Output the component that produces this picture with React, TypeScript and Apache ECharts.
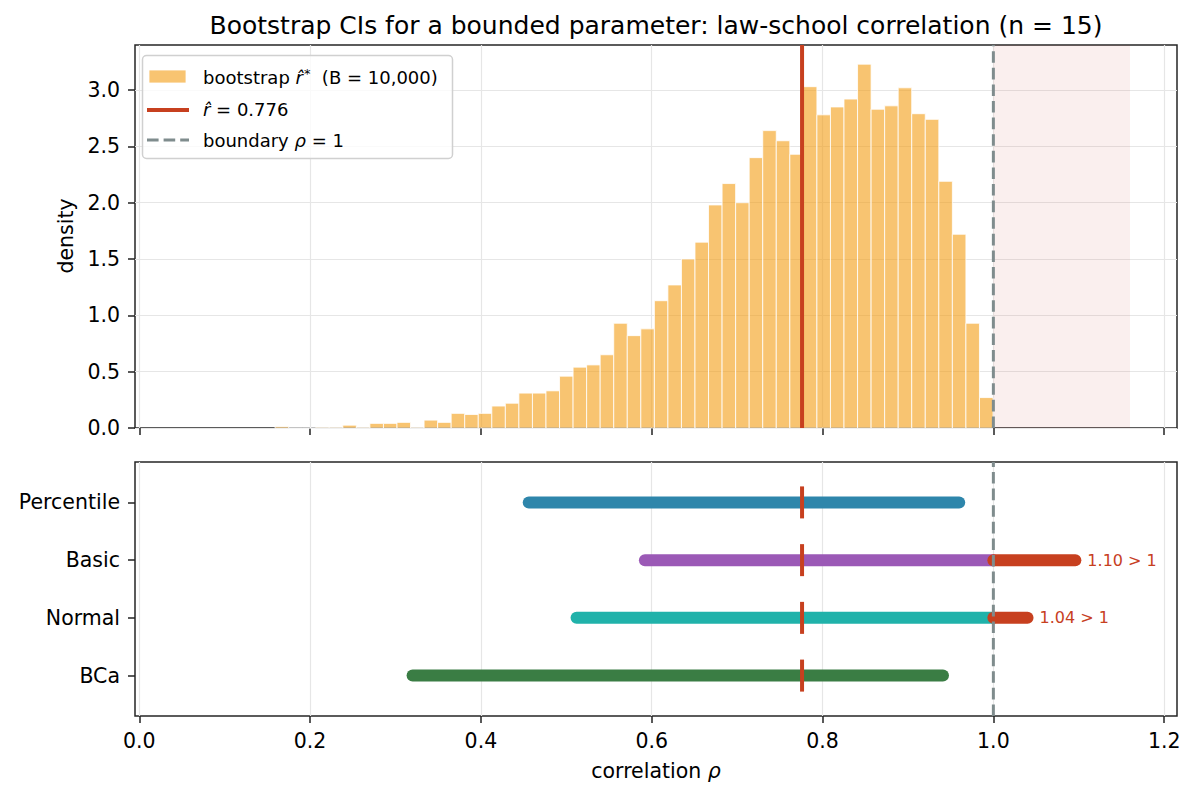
import React, { useEffect, useRef } from "react";
import * as echarts from "echarts";

const TITLE = "Bootstrap CIs for a bounded parameter: law-school correlation (n = 15)";
const X_TICKS = [0, 0.2, 0.4, 0.6, 0.8, 1.0, 1.2];
const DENSITY_TICKS = [0, 0.5, 1.0, 1.5, 2.0, 2.5, 3.0];

// histogram of bootstrap correlations (density), 53 equal bins
const BIN_START = 0.159;
const BIN_WIDTH = 0.01586;
const DENSITY = [
  0.013, 0, 0, 0.006, 0.006, 0.025, 0.006, 0.041, 0.041, 0.05,
  0.006, 0.07, 0.05, 0.13, 0.12, 0.13, 0.195, 0.22, 0.31, 0.31,
  0.33, 0.46, 0.54, 0.56, 0.65, 0.93, 0.82, 0.88, 1.13, 1.27,
  1.5, 1.65, 1.98, 2.17, 2.0, 2.4, 2.64, 2.55, 2.43, 3.03,
  2.78, 2.85, 2.92, 3.23, 2.83, 2.86, 3.02, 2.79, 2.74, 2.19,
  1.72, 0.93, 0.27,
];

const R_HAT = 0.776;
const BOUNDARY = 1.0;
const SHADE_END = 1.16;

// CI methods, bottom to top
const METHODS = ["BCa", "Normal", "Basic", "Percentile"];
const CI_LOWER = [0.32, 0.512, 0.592, 0.456];
const CI_UPPER = [0.941, 1.04, 1.096, 0.96];
const METHOD_COLORS = ["#3a7d44", "#20b2aa", "#9b59b6", "#2e86ab"];

const X_MIN = -0.005;
const X_MAX = 1.215;
const Y_MAX = 3.4;
const ROW_MIN = -0.7;
const ROW_MAX = 3.7;

const RED = "#c7401f";
const GRAY = "#7f8c8d";
const BAR_FILL = "rgba(243,156,18,0.6)";
const FONT = "DejaVu Sans";
const GRID_COLOR = "#e6e6e6";

export default function App() {
  const ref = useRef<HTMLDivElement>(null);

  useEffect(() => {
    if (!ref.current) return;
    const chart = echarts.init(ref.current, null, { renderer: "svg" });

    const histData = DENSITY.map((d, i) => [
      BIN_START + i * BIN_WIDTH,
      BIN_START + (i + 1) * BIN_WIDTH,
      d,
    ]);

    const axisTickStyle = { show: true, length: 7, lineStyle: { color: "#222", width: 1.5 } };
    const hiddenLine = { show: false, onZero: false };

    const series: any[] = [];

    // shaded impossible region
    series.push({
      type: "custom",
      xAxisIndex: 0,
      yAxisIndex: 0,
      z: 1,
      silent: true,
      data: [[BOUNDARY, SHADE_END]],
      encode: { x: [0, 1] },
      renderItem: (params: any, api: any) => {
        const p0 = api.coord([api.value(0), Y_MAX]);
        const p1 = api.coord([api.value(1), 0]);
        return {
          type: "rect",
          shape: { x: p0[0], y: p0[1], width: p1[0] - p0[0], height: p1[1] - p0[1] },
          style: { fill: "rgba(192,57,43,0.08)" },
        };
      },
    });

    // histogram
    series.push({
      type: "custom",
      xAxisIndex: 0,
      yAxisIndex: 0,
      z: 2,
      data: histData,
      encode: { x: [0, 1], y: 2 },
      renderItem: (params: any, api: any) => {
        const p0 = api.coord([api.value(0), api.value(2)]);
        const p1 = api.coord([api.value(1), 0]);
        return {
          type: "rect",
          shape: { x: p0[0], y: p0[1], width: p1[0] - p0[0], height: p1[1] - p0[1] },
          style: { fill: BAR_FILL, stroke: "rgba(255,255,255,0.8)", lineWidth: 1 },
        };
      },
    });

    // r-hat line (top)
    series.push({
      type: "line",
      xAxisIndex: 0,
      yAxisIndex: 0,
      z: 3,
      symbol: "none",
      data: [[R_HAT, 0], [R_HAT, Y_MAX]],
      lineStyle: { color: RED, width: 4 },
    });

    // boundary (top)
    series.push({
      type: "line",
      xAxisIndex: 0,
      yAxisIndex: 0,
      z: 4,
      symbol: "none",
      data: [[BOUNDARY, 0], [BOUNDARY, Y_MAX]],
      lineStyle: { color: GRAY, width: 3, type: [11.6, 5] },
    });

    // CI lines (bottom)
    METHODS.forEach((m, i) => {
      series.push({
        type: "line",
        name: m,
        xAxisIndex: 1,
        yAxisIndex: 1,
        z: 2,
        symbol: "none",
        data: [[CI_LOWER[i], i], [Math.min(CI_UPPER[i], BOUNDARY), i]],
        lineStyle: { color: METHOD_COLORS[i], width: 12, cap: "round" },
      });
    });

    // overflow beyond boundary
    const overflow: any[] = [];
    METHODS.forEach((m, i) => {
      if (CI_UPPER[i] > BOUNDARY) {
        overflow.push([CI_UPPER[i], i, `${CI_UPPER[i].toFixed(2)} > 1`]);
        series.push({
          type: "line",
          xAxisIndex: 1,
          yAxisIndex: 1,
          z: 3,
          symbol: "none",
          data: [[BOUNDARY, i], [CI_UPPER[i], i]],
          lineStyle: { color: RED, width: 12, cap: "round" },
        });
      }
    });

    // boundary (bottom)
    series.push({
      type: "line",
      xAxisIndex: 1,
      yAxisIndex: 1,
      z: 4,
      symbol: "none",
      data: [[BOUNDARY, ROW_MIN], [BOUNDARY, ROW_MAX]],
      lineStyle: { color: GRAY, width: 3, type: [11.6, 5] },
    });

    // r-hat ticks (bottom)
    series.push({
      type: "scatter",
      xAxisIndex: 1,
      yAxisIndex: 1,
      z: 5,
      symbol: "rect",
      symbolSize: [4, 32],
      itemStyle: { color: RED, opacity: 1 },
      data: METHODS.map((_, i) => [R_HAT, i]),
    });

    // annotations
    series.push({
      type: "scatter",
      xAxisIndex: 1,
      yAxisIndex: 1,
      z: 6,
      symbolSize: 0,
      itemStyle: { opacity: 1 },
      data: overflow,
      label: {
        show: true,
        position: "right",
        distance: 12,
        formatter: (p: any) => p.data[2],
        color: RED,
        opacity: 1,
        fontSize: 16,
        fontFamily: FONT,
      },
    });

    const rich = {
      i: { fontStyle: "italic", fontSize: 18, fontFamily: FONT, fill: "#000" },
      sup: { fontSize: 13, fontFamily: FONT, verticalAlign: "top", padding: [0, 0, 8, 1] },
    };

    chart.setOption({
      animation: false,
      textStyle: { fontFamily: FONT },
      grid: [
        { left: 135, top: 45, width: 1042, height: 383, show: true, borderColor: "#262626", borderWidth: 1.5, backgroundColor: "transparent" },
        { left: 135, top: 462, width: 1042, height: 254, show: true, borderColor: "#262626", borderWidth: 1.5, backgroundColor: "transparent" },
      ],
      xAxis: [
        {
          gridIndex: 0,
          type: "value",
          min: X_MIN,
          max: X_MAX,
          position: "bottom",
          axisLine: hiddenLine,
          axisTick: { ...axisTickStyle, customValues: X_TICKS },
          axisLabel: { show: false, customValues: X_TICKS },
          splitLine: { show: true, lineStyle: { color: GRID_COLOR, width: 1.2 } },
        },
        {
          gridIndex: 1,
          type: "value",
          min: X_MIN,
          max: X_MAX,
          position: "bottom",
          axisLine: hiddenLine,
          axisTick: { ...axisTickStyle, customValues: X_TICKS },
          axisLabel: {
            show: true,
            customValues: X_TICKS,
            formatter: (v: number) => v.toFixed(1),
            fontSize: 20.5,
            color: "#000",
            margin: 14,
            fontFamily: FONT,
          },
          splitLine: { show: true, lineStyle: { color: GRID_COLOR, width: 1.2 } },
        },
      ],
      yAxis: [
        {
          gridIndex: 0,
          type: "value",
          min: 0,
          max: Y_MAX,
          position: "left",
          axisLine: hiddenLine,
          axisTick: { ...axisTickStyle, customValues: DENSITY_TICKS },
          axisLabel: {
            show: true,
            customValues: DENSITY_TICKS,
            formatter: (v: number) => v.toFixed(1),
            fontSize: 20.5,
            color: "#000",
            margin: 15,
            fontFamily: FONT,
          },
          splitLine: { show: true, lineStyle: { color: GRID_COLOR, width: 1.2 } },
        },
        {
          gridIndex: 1,
          type: "value",
          min: ROW_MIN,
          max: ROW_MAX,
          position: "left",
          axisLine: hiddenLine,
          axisTick: { ...axisTickStyle, customValues: [0, 1, 2, 3] },
          axisLabel: {
            show: true,
            customValues: [0, 1, 2, 3],
            formatter: (v: number) => METHODS[Math.round(v)] ?? "",
            fontSize: 20.5,
            color: "#000",
            margin: 15,
            fontFamily: FONT,
          },
          splitLine: { show: false },
        },
      ],
      graphic: [
        {
          type: "text",
          x: 656,
          y: 25,
          style: { text: TITLE, fontSize: 25, fontFamily: FONT, fill: "#000", textAlign: "center", textVerticalAlign: "middle" },
        },
        {
          type: "text",
          x: 66,
          y: 236,
          rotation: Math.PI / 2,
          style: { text: "density", fontSize: 20.5, fontFamily: FONT, fill: "#000", textAlign: "center", textVerticalAlign: "middle" },
        },
        {
          type: "text",
          x: 656,
          y: 771,
          style: {
            text: "correlation {i|ρ}",
            rich: { i: { fontStyle: "italic", fontSize: 20.5, fontFamily: FONT } },
            fontSize: 20.5,
            fontFamily: FONT,
            fill: "#000",
            textAlign: "center",
            textVerticalAlign: "middle",
          },
        },
        // legend
        {
          type: "rect",
          shape: { x: 142.5, y: 55.5, width: 310, height: 103, r: 4 },
          style: { fill: "rgba(255,255,255,0.8)", stroke: "#d0d0d0", lineWidth: 1.5 },
          z: 100,
        },
        {
          type: "rect",
          shape: { x: 149, y: 70, width: 37, height: 13 },
          style: { fill: BAR_FILL, stroke: "rgba(255,255,255,0.8)", lineWidth: 1 },
          z: 101,
        },
        {
          type: "line",
          shape: { x1: 147, y1: 110, x2: 189, y2: 110 },
          style: { stroke: RED, lineWidth: 4 },
          z: 101,
        },
        {
          type: "line",
          shape: { x1: 147, y1: 140, x2: 189, y2: 140 },
          style: { stroke: GRAY, lineWidth: 3, lineDash: [11.6, 5] },
          z: 101,
        },
        {
          type: "text",
          x: 203,
          y: 77,
          z: 101,
          style: {
            text: "bootstrap {i|r\u0302}{sup|*}  (B = 10,000)",
            rich,
            fontSize: 18,
            fontFamily: FONT,
            fill: "#000",
            textVerticalAlign: "middle",
          },
        },
        {
          type: "text",
          x: 203,
          y: 109,
          z: 101,
          style: {
            text: "{i|r\u0302} = 0.776",
            rich,
            fontSize: 18,
            fontFamily: FONT,
            fill: "#000",
            textVerticalAlign: "middle",
          },
        },
        {
          type: "text",
          x: 203,
          y: 140,
          z: 101,
          style: {
            text: "boundary {i|ρ} = 1",
            rich,
            fontSize: 18,
            fontFamily: FONT,
            fill: "#000",
            textVerticalAlign: "middle",
          },
        },
      ],
      series,
    });

    return () => chart.dispose();
  }, []);

  return (
    <div
      ref={ref}
      style={{ position: "fixed", left: 0, top: 0, width: 1197, height: 798, background: "#fff" }}
    />
  );
}
